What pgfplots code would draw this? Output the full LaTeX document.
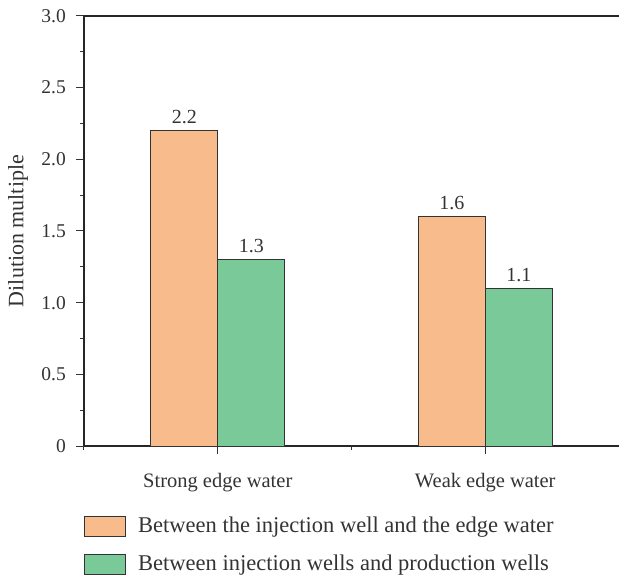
\documentclass[border=0pt]{standalone}
\usepackage{pgfplots}
\pgfplotsset{compat=1.18}
\usepackage{fontspec}
\setmainfont{Liberation Serif}
\definecolor{orangebar}{HTML}{F8BC8C}
\definecolor{greenbar}{HTML}{7AC998}
\definecolor{txt}{HTML}{333333}
\begin{document}
\fontsize{18bp}{22bp}\selectfont
\begin{tikzpicture}
\path[use as bounding box] (-84bp,-130bp) rectangle (535bp,446bp);
\begin{axis}[
 scale only axis, width=535bp, height=430bp,
 at={(0,0)}, anchor=south west,
 xmin=-0.5, xmax=1.5, ymin=0, ymax=3,
 axis x line*=box, axis y line*=left,
 ybar=0pt, bar width=67bp,
 xtick={0,1}, xticklabels={Strong edge water, Weak edge water},
 minor xtick={-0.5,0.5,1.5},
 ytick={0,0.5,1,1.5,2,2.5,3}, yticklabels={0,0.5,1.0,1.5,2.0,2.5,3.0},
 minor ytick={0.25,0.75,1.25,1.75,2.25,2.75},
 tick align=outside, xtick pos=bottom, ytick pos=left,
 major tick length=8bp, minor tick length=4bp,
 tick style={color=txt, line width=1bp},
 axis line style={color=black!85, line width=1.2bp},
 /pgf/number format/assume math mode=true,
 yticklabel style={font=\fontsize{19.5bp}{23bp}\selectfont, text=txt, xshift=-4bp},
 xticklabel style={font=\fontsize{20.5bp}{24bp}\selectfont, text=txt, yshift=-13bp},
 ylabel={Dilution multiple},
 ylabel style={at={(axis description cs:-0.1234,0.5)}, anchor=center, font=\fontsize{22bp}{26bp}\selectfont, text=txt},
 nodes near coords={\pgfmathprintnumber[fixed,fixed zerofill,precision=1]{\pgfplotspointmeta}},
 nodes near coords style={font=\fontsize{20bp}{24bp}\selectfont, text=txt, anchor=south, yshift=0bp},
 legend image code/.code={\draw[#1] (0bp,-10bp) rectangle (41bp,10bp);},
 legend style={at={(0,-0.16)}, anchor=north west, draw=none, fill=none, inner sep=0pt,
   row sep=16bp, font=\fontsize{22.5bp}{26bp}\selectfont, text=txt,
   /tikz/every odd column/.append style={column sep=10bp}},
 legend cell align=left,
]
\addplot[fill=orangebar, draw=txt, line width=1bp] coordinates {(0,2.2) (1,1.6)};
\addplot[fill=greenbar, draw=txt, line width=1bp] coordinates {(0,1.3) (1,1.1)};
\legend{Between the injection well and the edge water, Between injection wells and production wells}
\end{axis}
\end{tikzpicture}
\end{document}
